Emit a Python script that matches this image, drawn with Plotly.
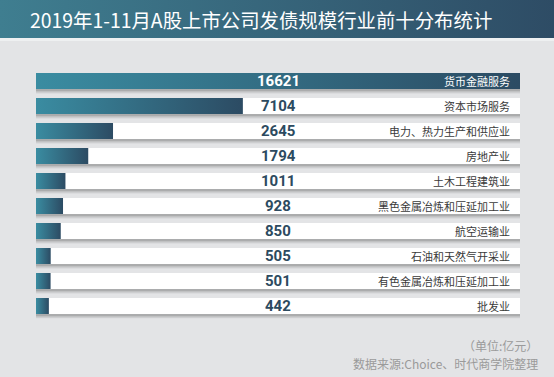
import plotly.graph_objects as go

# ---- data ----
categories = ["货币金融服务", "资本市场服务", "电力、热力生产和供应业", "房地产业", "土木工程建筑业",
              "黑色金属冶炼和压延加工业", "航空运输业", "石油和天然气开采业", "有色金属冶炼和压延加工业", "批发业"]
values = [16621, 7104, 2645, 1794, 1011, 928, 850, 505, 501, 442]
title_text = "2019年1-11月A股上市公司发债规模行业前十分布统计"
unit_text = "（单位:亿元）"
source_text = "数据来源:Choice、时代商学院整理"

W, H = 554, 377
BG = "#e3e4e6"
CJK = "Noto Sans CJK SC"
xmax = max(values)
half = 0.32
n = len(categories)
ys = list(range(n))


def rect(x0, x1, y0, y1):
    return [x0, x1, x1, x0, x0], [y0, y0, y1, y1, y0]


fig = go.Figure()

# soft shadows under / right of the white tracks
for i in ys:
    for off, alpha, ext in [(0.18, 0.10, 0.009), (0.13, 0.14, 0.006), (0.08, 0.18, 0.003)]:
        xs, yv = rect(0, xmax * (1 + ext), i - half + off, i + half + off)
        fig.add_trace(go.Scatter(
            x=xs, y=yv, fill="toself", mode="lines", line=dict(width=0),
            fillcolor=f"rgba(80,80,80,{alpha})", hoverinfo="skip", showlegend=False))

# white tracks
for i in ys:
    xs, yv = rect(0, xmax, i - half, i + half)
    fig.add_trace(go.Scatter(
        x=xs, y=yv, fill="toself", mode="lines", line=dict(width=0),
        fillcolor="white", hoverinfo="skip", showlegend=False))

# value bars with gradient
for i, v in zip(ys, values):
    xs, yv = rect(0, v, i - half, i + half)
    fig.add_trace(go.Scatter(
        x=xs, y=yv, fill="toself", mode="lines", line=dict(width=0),
        fillgradient=dict(type="horizontal", colorscale=[[0, "#3a8ca1"], [1, "#2c4b63"]]),
        hovertemplate=f"{categories[i]}: {v}<extra></extra>", showlegend=False))

# title band on a full-paper overlay axis
xs, yv = rect(0, W, 0, 38)
fig.add_trace(go.Scatter(
    x=xs, y=yv, fill="toself", mode="lines", line=dict(width=0),
    fillgradient=dict(type="horizontal", colorscale=[[0, "#3f7e90"], [1, "#2e4c65"]]),
    xaxis="x2", yaxis="y2", hoverinfo="skip", showlegend=False))
xs, yv = rect(0, W, 38, 41)
fig.add_trace(go.Scatter(
    x=xs, y=yv, fill="toself", mode="lines", line=dict(width=0), fillcolor="#eef0f1",
    xaxis="x2", yaxis="y2", hoverinfo="skip", showlegend=False))

annotations = []
for i, (c, v) in enumerate(zip(categories, values)):
    annotations.append(dict(
        x=xmax / 2, y=i, xref="x", yref="y", text=f"<b>{v}</b>", showarrow=False,
        font=dict(family="Roboto", size=15, color="white" if i == 0 else "#2c4a60"),
        xanchor="center", yanchor="middle"))
    annotations.append(dict(
        x=xmax, y=i, xref="x", yref="y", text=c, showarrow=False, xshift=-8,
        font=dict(family=CJK, size=11, color="white" if i == 0 else "#3a3a3a"),
        xanchor="right", yanchor="middle"))

annotations.append(dict(
    x=261 / W, y=1 - 20 / H, xref="paper", yref="paper", text=title_text, showarrow=False,
    font=dict(family=CJK, size=19.4, color="white"), xanchor="center", yanchor="middle"))
annotations.append(dict(
    x=540 / W, y=1 - 345 / H, xref="paper", yref="paper", text=unit_text, showarrow=False,
    font=dict(family=CJK, size=12, color="#9a9a9a"), xanchor="right", yanchor="middle"))
annotations.append(dict(
    x=540 / W, y=1 - 363 / H, xref="paper", yref="paper", text=source_text, showarrow=False,
    font=dict(family=CJK, size=12, color="#9a9a9a"), xanchor="right", yanchor="middle"))

fig.update_layout(
    width=W, height=H, margin=dict(l=0, r=0, t=0, b=0),
    paper_bgcolor=BG, plot_bgcolor="rgba(0,0,0,0)",
    xaxis=dict(domain=[36 / W, 520 / W], range=[0, xmax], visible=False, fixedrange=True),
    yaxis=dict(domain=[(H - 318.5) / H, (H - 68.5) / H], range=[n - 0.5, -0.5],
               visible=False, fixedrange=True),
    xaxis2=dict(domain=[0, 1], range=[0, W], visible=False, anchor="y2", fixedrange=True),
    yaxis2=dict(domain=[0, 1], range=[H, 0], visible=False, anchor="x2", fixedrange=True),
    annotations=annotations,
)

fig.write_html("out.html", config={"displayModeBar": False},
               post_script="document.body.style.margin='0';document.body.style.background='#e3e4e6';")
